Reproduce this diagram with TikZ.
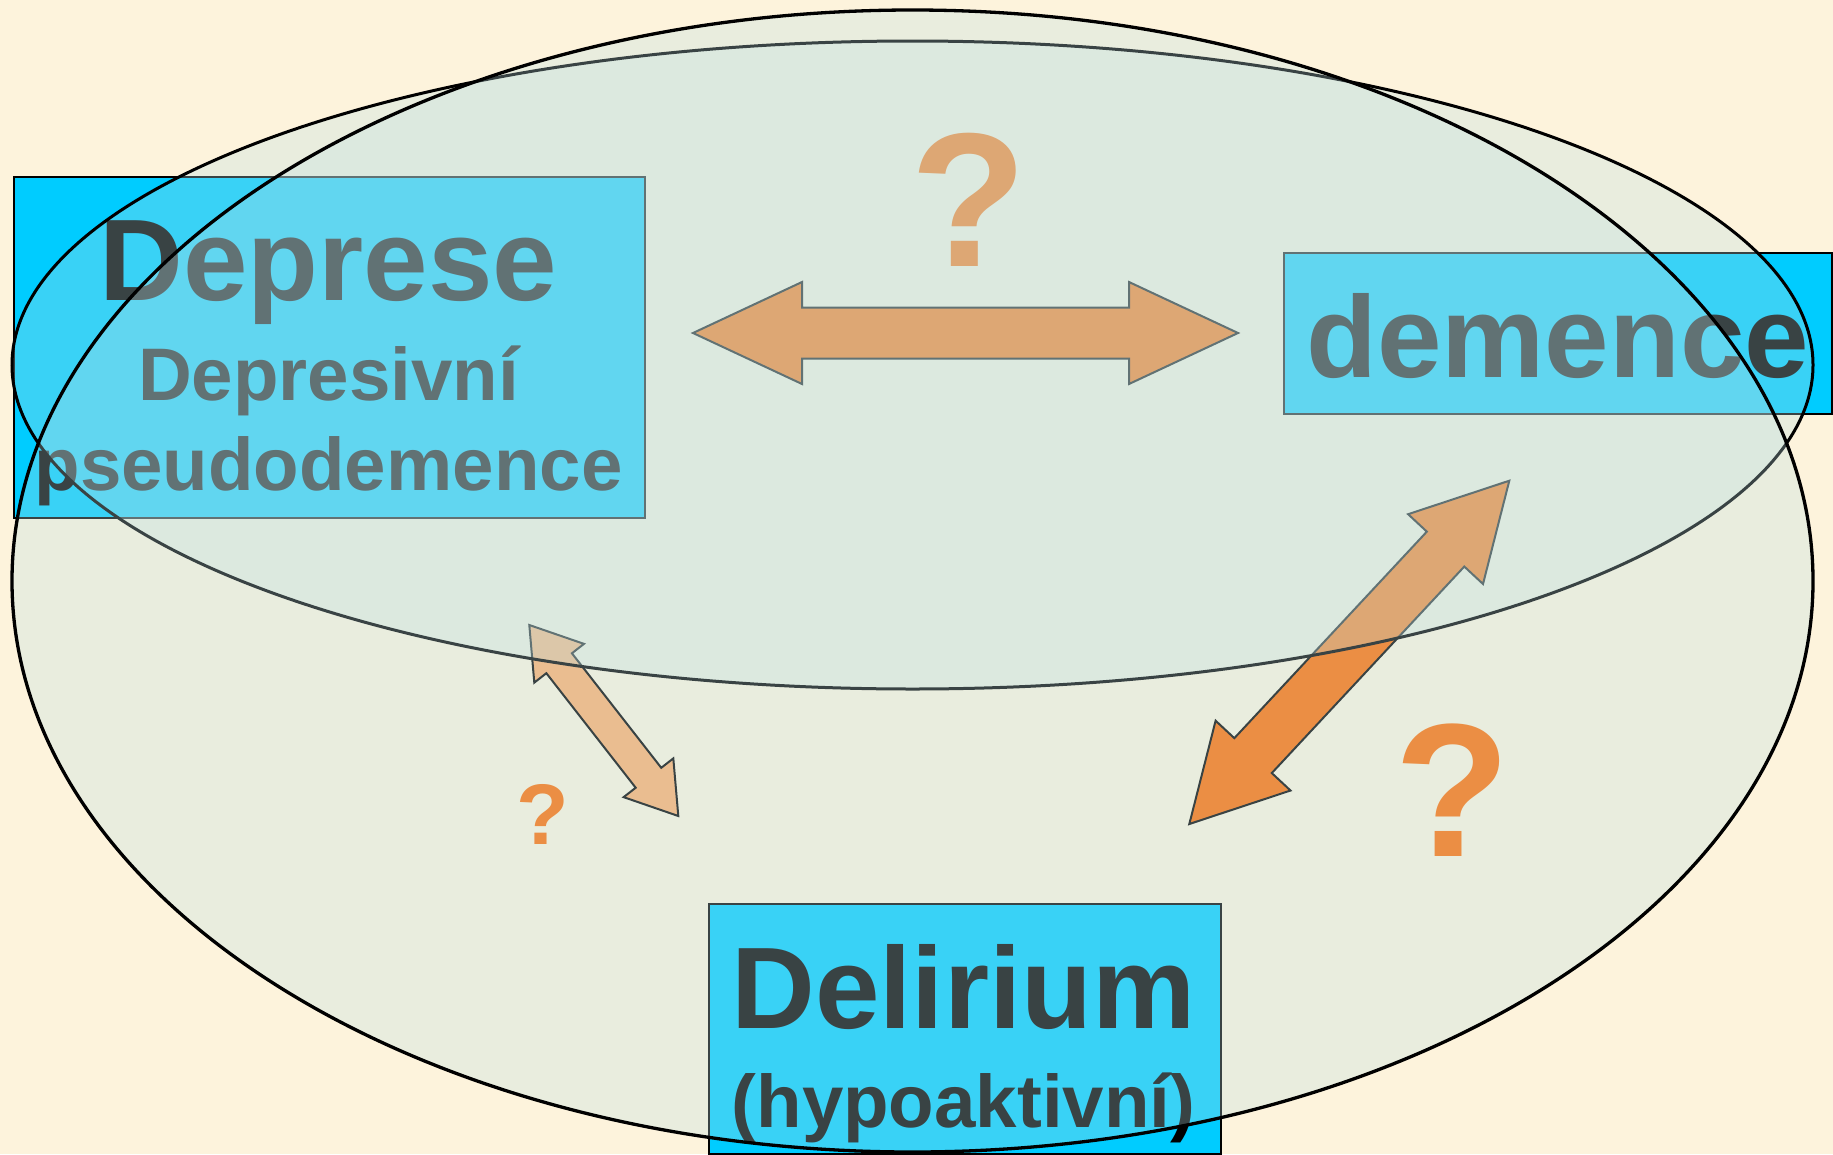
\documentclass[tikz,border=0pt]{standalone}
\usepackage{fontspec}
\setmainfont{Liberation Sans}
\usetikzlibrary{calc}
\definecolor{bgcream}{HTML}{FDF3DC}
\definecolor{boxcyan}{HTML}{00CCFF}
\definecolor{veil}{HTML}{BEE1E4}
\definecolor{arrorange}{HTML}{FF6B00}
\tikzset{
  box/.style={draw=black, line width=2pt, fill=boxcyan, inner sep=0pt, anchor=north west},
  titletext/.style={anchor=base, inner sep=0pt, text=black, font=\bfseries\fontsize{116}{116}\selectfont},
  subtext/.style={anchor=base, inner sep=0pt, text=black, font=\bfseries\fontsize{74.5}{74.5}\selectfont},
  qmark/.style={anchor=base, inner sep=0pt, text=arrorange, font=\bfseries\fontsize{#1}{#1}\selectfont},
  blockarrow/.style={draw=black, line width=2pt, fill=arrorange, line join=miter},
  veilfill/.style={fill=veil, fill opacity=0.3},
}
% double block arrow: style, tip A, tip B, head length, head half width, shaft half width
\newcommand\dblarrow[6]{%
  \path ($(#2)!#4!(#3)$) coordinate (#2-p) ($(#3)!#4!(#2)$) coordinate (#2-q);
  \draw[#1] (#2) -- ($(#2-p)!#5!90:(#3)$) -- ($(#2-p)!#6!90:(#3)$)
    -- ($(#2-q)!#6!-90:(#2)$) -- ($(#2-q)!#5!-90:(#2)$) -- (#3)
    -- ($(#2-q)!#5!90:(#2)$) -- ($(#2-q)!#6!90:(#2)$)
    -- ($(#2-p)!#6!-90:(#3)$) -- ($(#2-p)!#5!-90:(#3)$) -- cycle;
}
\begin{document}
\begin{tikzpicture}[x=1pt,y=-1pt]
\useasboundingbox (0,0) rectangle (1833,1154);
\fill[bgcream] (0,0) rectangle (1833,1154);

% boxes
\node[box, minimum width=631pt, minimum height=341pt] (dep) at (12.9,176) {};
\node[box, minimum width=548pt, minimum height=161pt] (dem) at (1283,252) {};
\node[box, minimum width=511.5pt, minimum height=250.5pt] (del) at (708,902.5) {};

% texts
\node[titletext] (depT) at (328.5,300) {Deprese};
\node[subtext] (depS1) at (328.5,400) {Depresivní};
\node[subtext] (depS2) at (328.5,490) {pseudodemence};
\node[titletext] (demT) at (1557.6,377) {demence};
\node[titletext] (delT) at (963.5,1028) {Delirium};
\node[subtext] (delS) at (963.5,1127) {(hypoaktivní)};

% arrows
\coordinate (ha) at (693,333);
\coordinate (hb) at (1238,333);
\dblarrow{blockarrow}{ha}{hb}{109pt}{51pt}{25.5pt}
\coordinate (da) at (1509.3,480.7);
\coordinate (db) at (1189.3,824);
\dblarrow{blockarrow}{da}{db}{93.5pt}{51.2pt}{25.6pt}
\coordinate (sa) at (529.3,625);
\coordinate (sb) at (678.3,816);
\dblarrow{blockarrow, fill opacity=0.5}{sa}{sb}{48.5pt}{31.5pt}{16.2pt}

% question marks
\node[qmark=191] (q1) at (969,266.7) {?};
\node[qmark=190] (q2) at (1452.5,856.7) {?};
\node[qmark=86] (q3) at (542.5,844) {?};

% ellipses
\draw[veilfill, draw=black, line width=3pt] (912.5,365) ellipse [x radius=900.5, y radius=324];
\draw[veilfill, draw=black, line width=3.3pt] (912.5,581) ellipse [x radius=900.5, y radius=571];
\end{tikzpicture}
\end{document}
